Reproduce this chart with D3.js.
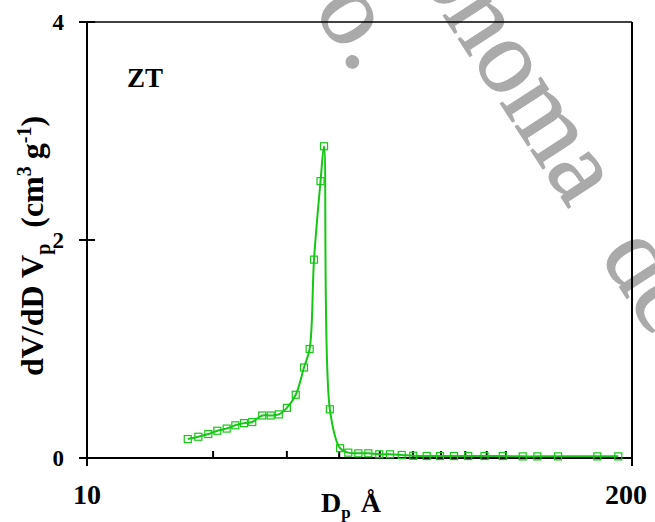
<!DOCTYPE html>
<html><head><meta charset="utf-8">
<script src="https://cdn.jsdelivr.net/npm/d3@7"></script>
<style>body{margin:0;background:#fff}svg{display:block}</style>
</head><body>
<script>
// ---- data ----
const poreDiameter = [17.4, 18.44, 19.48, 20.47, 21.55, 22.6, 23.7, 24.8, 26.2, 27.45, 28.7, 30.0, 31.5, 32.96, 34.0, 34.83, 36.1, 36.8, 38.0, 40.2, 42.05, 44.44, 46.95, 49.85, 52.88, 56.4, 60.1, 64.7, 69.6, 75.2, 81.3, 88.9, 98.3, 109.7, 118.9, 133.2, 165.3, 185.5];
const dVdD = [0.174, 0.195, 0.22, 0.25, 0.27, 0.30, 0.32, 0.33, 0.39, 0.39, 0.40, 0.46, 0.58, 0.83, 1.00, 1.82, 2.54, 2.86, 0.447, 0.09, 0.049, 0.043, 0.043, 0.034, 0.034, 0.028, 0.021, 0.018, 0.018, 0.018, 0.018, 0.018, 0.018, 0.015, 0.015, 0.015, 0.015, 0.015];
const xTickLabels = [10, 200];
const xMinorTicks = [20, 30, 40, 50, 60, 70, 80, 90, 100];
const yTicks = [0, 2, 4];
const sampleLabel = "ZT";
const watermarkWord1 = "Autónoma";
const watermarkWord2 = "de";
const watermarkLine2 = "o.";

const W = 655, H = 522;
const serif = "'Liberation Serif','Times New Roman',serif";
const green = "#14c814";

const svg = d3.select("body").append("svg").attr("width", W).attr("height", H);

const x = d3.scaleLog().domain([10, 200]).range([87, 632]);
const y = d3.scaleLinear().domain([0, 4]).range([458, 22]);

// ---- watermark (behind chart) ----
const wm = svg.append("g").attr("transform", "translate(485,80) rotate(57)")
  .attr("font-family", serif).attr("font-size", 105).attr("fill", "#aaaaaa")
  .attr("stroke", "#aaaaaa").attr("stroke-width", 1.2);
const w1 = wm.append("text").attr("x", -289).attr("y", 0);
w1.append("tspan").text(watermarkWord1);
w1.append("tspan").attr("dx", 55).text(watermarkWord2);
wm.append("text").attr("x", -153).attr("y", 106).text(watermarkLine2);

// ---- frame / axes ----
const [x0, x1] = x.range();
const [yb, yt] = y.range();
const ax = svg.append("g").attr("stroke", "#000").attr("fill", "none");
ax.append("line").attr("x1", x0).attr("x2", x0).attr("y1", yt).attr("y2", yb).attr("stroke-width", 2);
ax.append("line").attr("x1", x0).attr("x2", x1).attr("y1", yb).attr("y2", yb).attr("stroke-width", 2);
ax.append("line").attr("x1", x0).attr("x2", x1).attr("y1", yt).attr("y2", yt).attr("stroke-width", 1.6);
ax.append("line").attr("x1", x1).attr("x2", x1).attr("y1", yt).attr("y2", yb).attr("stroke-width", 2);

// y ticks crossing the axis
ax.selectAll(".yt").data(yTicks).join("line")
  .attr("x1", x0 - 8).attr("x2", x0 + 8)
  .attr("y1", d => y(d)).attr("y2", d => y(d)).attr("stroke-width", 2);
// x minor ticks (inside)
ax.selectAll(".xm").data(xMinorTicks).join("line")
  .attr("x1", d => x(d)).attr("x2", d => x(d))
  .attr("y1", yb).attr("y2", yb - 7).attr("stroke-width", 2);
// x labelled ticks (outside)
ax.selectAll(".xl").data(xTickLabels).join("line")
  .attr("x1", d => x(d)).attr("x2", d => x(d))
  .attr("y1", yb).attr("y2", yb + 8).attr("stroke-width", 2);

// tick labels
svg.selectAll(".ytl").data(yTicks).join("text")
  .attr("x", x0 - 23).attr("y", d => y(d) + 8)
  .attr("text-anchor", "end").attr("font-family", serif).attr("font-weight", "bold")
  .attr("font-size", 23).text(d => d);
svg.selectAll(".xtl").data(xTickLabels).join("text")
  .attr("x", (d, i) => x(d) - (i === 1 ? 6 : 0)).attr("y", 504)
  .attr("text-anchor", "middle").attr("font-family", serif).attr("font-weight", "bold")
  .attr("font-size", 28).text(d => d);

// ---- data line + markers ----
const pts = poreDiameter.map((d, i) => [d, dVdD[i]]);
const line = d3.line().x(d => x(d[0])).y(d => y(d[1])).curve(d3.curveCatmullRom.alpha(0.5));
svg.append("path").datum(pts).attr("d", line)
  .attr("fill", "none").attr("stroke", green).attr("stroke-width", 2);
const ms = 7;
svg.selectAll(".m").data(pts).join("rect")
  .attr("x", d => x(d[0]) - ms / 2).attr("y", d => y(d[1]) - ms / 2)
  .attr("width", ms).attr("height", ms)
  .attr("fill", "none").attr("stroke", green).attr("stroke-width", 1.2);

// ---- labels ----
svg.append("text").attr("x", 127).attr("y", 87)
  .attr("font-family", serif).attr("font-weight", "bold").attr("font-size", 27).text(sampleLabel);

const xl = svg.append("text").attr("x", 321).attr("y", 512)
  .attr("font-family", serif).attr("font-weight", "bold").attr("font-size", 28);
xl.append("tspan").text("D");
xl.append("tspan").attr("font-size", 17).attr("dy", 6).text("p");
xl.append("tspan").attr("dy", -6).attr("dx", 10).text("Å");

const yl = svg.append("text").attr("transform", "translate(43,246) rotate(-90)")
  .attr("text-anchor", "middle")
  .attr("font-family", serif).attr("font-weight", "bold").attr("font-size", 32);
yl.append("tspan").text("dV/dD V");
yl.append("tspan").attr("font-size", 20).attr("dy", 7).text("p");
yl.append("tspan").attr("dy", -7).attr("dx", 16).text("(cm");
yl.append("tspan").attr("font-size", 20).attr("dy", -12).text("3");
yl.append("tspan").attr("dy", 12).attr("dx", 7).text("g");
yl.append("tspan").attr("font-size", 20).attr("dy", -12).text("-1");
yl.append("tspan").attr("dy", 12).text(")");
</script>
</body></html>
